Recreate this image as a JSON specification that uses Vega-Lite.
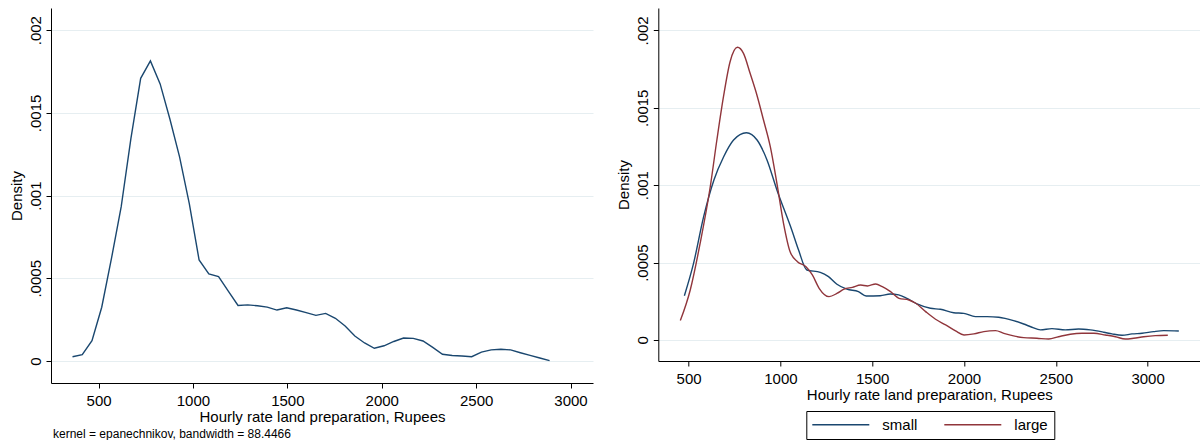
{
  "$schema": "https://vega.github.io/schema/vega-lite/v6.json",
  "padding": {"left": 9, "top": 8, "right": 0, "bottom": 0},
  "background": "white",
  "bounds": "flush",
  "spacing": 65.3,
  "resolve": {"legend": {"color": "independent"}, "scale": {"color": "independent"}},
  "config": {
    "font": "Liberation Sans",
    "view": {"stroke": null},
    "axis": {
      "domainColor": "#000", "domainWidth": 1, "tickColor": "#000", "tickSize": 5, "tickWidth": 1,
      "labelFont": "Liberation Sans", "labelFontSize": 15, "labelColor": "#000",
      "titleFont": "Liberation Sans", "titleFontSize": 15, "titleFontWeight": "normal", "titleColor": "#000",
      "gridColor": "#e6eef1", "gridWidth": 1
    },
    "axisX": {"grid": false, "labelBaseline": "alphabetic", "labelPadding": 17, "titleBaseline": "alphabetic", "titleY": 38.5, "labelFlush": false, "format": "d"},
    "axisY": {"grid": true, "labelAngle": -90, "labelAlign": "center", "labelBaseline": "alphabetic", "labelPadding": 5.7, "titleAngle": -90, "titleBaseline": "alphabetic", "titleX": -30}
  },
  "hconcat": [
    {
      "width": 542,
      "height": 375,
      "data": {"values": [
        {"x": 362, "d": 0.000026}, {"x": 413.6, "d": 0.000038}, {"x": 465.1, "d": 0.000123}, {"x": 516.7, "d": 0.000325},
        {"x": 568.3, "d": 0.00062}, {"x": 619.9, "d": 0.000933}, {"x": 671.4, "d": 0.001346}, {"x": 723.0, "d": 0.001709},
        {"x": 774.6, "d": 0.001814}, {"x": 826.1, "d": 0.001675}, {"x": 877.7, "d": 0.001463}, {"x": 929.3, "d": 0.001233},
        {"x": 980.8, "d": 0.00095}, {"x": 1032.4, "d": 0.000611}, {"x": 1084.0, "d": 0.000526}, {"x": 1135.6, "d": 0.00051},
        {"x": 1187.1, "d": 0.000423}, {"x": 1238.7, "d": 0.000336}, {"x": 1290.3, "d": 0.000339}, {"x": 1341.8, "d": 0.000334},
        {"x": 1393.4, "d": 0.000326}, {"x": 1445.0, "d": 0.000308}, {"x": 1496.5, "d": 0.000322}, {"x": 1548.1, "d": 0.000308},
        {"x": 1599.7, "d": 0.000292}, {"x": 1651.3, "d": 0.000276}, {"x": 1702.8, "d": 0.000288}, {"x": 1754.4, "d": 0.000258},
        {"x": 1806.0, "d": 0.000212}, {"x": 1857.5, "d": 0.000151}, {"x": 1909.1, "d": 0.000109}, {"x": 1960.7, "d": 0.000077},
        {"x": 2012.2, "d": 0.000092}, {"x": 2063.8, "d": 0.000118}, {"x": 2115.4, "d": 0.000139}, {"x": 2167.0, "d": 0.000137},
        {"x": 2218.5, "d": 0.000121}, {"x": 2270.1, "d": 0.000082}, {"x": 2321.7, "d": 0.000041}, {"x": 2373.2, "d": 0.000033},
        {"x": 2424.8, "d": 0.00003}, {"x": 2476.4, "d": 0.000026}, {"x": 2527.9, "d": 0.000054}, {"x": 2579.5, "d": 0.000067},
        {"x": 2631.1, "d": 0.000071}, {"x": 2682.7, "d": 0.000067}, {"x": 2734.2, "d": 0.00005}, {"x": 2785.8, "d": 0.000034},
        {"x": 2837.4, "d": 0.000018}, {"x": 2889, "d": 0.000002}
      ]},
      "title": {"text": "kernel = epanechnikov, bandwidth = 88.4466", "orient": "bottom", "anchor": "start", "frame": "group", "fontSize": 12, "fontWeight": "normal", "font": "Liberation Sans", "color": "#000", "offset": 4, "dx": 2},
      "mark": {"type": "line", "color": "#1a476f", "strokeWidth": 1.4},
      "encoding": {
        "x": {"field": "x", "type": "quantitative", "scale": {"domain": [248, 3119], "nice": false, "zero": false},
              "axis": {"values": [500, 1000, 1500, 2000, 2500, 3000], "title": "Hourly rate land preparation, Rupees"}},
        "y": {"field": "d", "type": "quantitative", "scale": {"domain": [-0.000133, 0.002134], "nice": false, "zero": false},
              "axis": {"values": [0, 0.0005, 0.001, 0.0015, 0.002], "title": "Density", "labelExpr": "datum.value == 0 ? '0' : replace(toString(datum.value), '0.', '.')"}}
      }
    },
    {
      "width": 542,
      "height": 353,
      "data": {"values": [
        {"x": 477, "d": 0.000286, "group": "small"}, {"x": 527, "d": 0.000495, "group": "small"}, {"x": 582, "d": 0.000797, "group": "small"},
        {"x": 638, "d": 0.001034, "group": "small"}, {"x": 691, "d": 0.001184, "group": "small"}, {"x": 745, "d": 0.001292, "group": "small"},
        {"x": 815, "d": 0.001339, "group": "small"}, {"x": 873, "d": 0.001292, "group": "small"}, {"x": 927, "d": 0.001163, "group": "small"},
        {"x": 981, "d": 0.000969, "group": "small"}, {"x": 1062, "d": 0.000711, "group": "small"}, {"x": 1099, "d": 0.000581, "group": "small"},
        {"x": 1144, "d": 0.000452, "group": "small"}, {"x": 1217, "d": 0.000437, "group": "small"}, {"x": 1262, "d": 0.000409, "group": "small"},
        {"x": 1308, "d": 0.00036, "group": "small"}, {"x": 1362, "d": 0.000328, "group": "small"}, {"x": 1425, "d": 0.000312, "group": "small"},
        {"x": 1467, "d": 0.000284, "group": "small"}, {"x": 1544, "d": 0.000286, "group": "small"}, {"x": 1598, "d": 0.000297, "group": "small"},
        {"x": 1644, "d": 0.000291, "group": "small"}, {"x": 1689, "d": 0.000269, "group": "small"}, {"x": 1744, "d": 0.000233, "group": "small"},
        {"x": 1817, "d": 0.000205, "group": "small"}, {"x": 1871, "d": 0.000198, "group": "small"}, {"x": 1944, "d": 0.000176, "group": "small"},
        {"x": 1999, "d": 0.000172, "group": "small"}, {"x": 2062, "d": 0.000151, "group": "small"}, {"x": 2126, "d": 0.000151, "group": "small"},
        {"x": 2189, "d": 0.000147, "group": "small"}, {"x": 2270, "d": 0.000125, "group": "small"}, {"x": 2325, "d": 0.000103, "group": "small"},
        {"x": 2370, "d": 0.000082, "group": "small"}, {"x": 2416, "d": 0.000065, "group": "small"}, {"x": 2479, "d": 0.000073, "group": "small"},
        {"x": 2552, "d": 0.000065, "group": "small"}, {"x": 2624, "d": 0.000071, "group": "small"}, {"x": 2688, "d": 0.000065, "group": "small"},
        {"x": 2761, "d": 0.00005, "group": "small"}, {"x": 2806, "d": 0.000039, "group": "small"}, {"x": 2861, "d": 0.00003, "group": "small"},
        {"x": 2915, "d": 0.000039, "group": "small"}, {"x": 2970, "d": 0.000043, "group": "small"}, {"x": 3033, "d": 0.000054, "group": "small"},
        {"x": 3088, "d": 0.00006, "group": "small"}, {"x": 3170, "d": 0.000058, "group": "small"},
        {"x": 455, "d": 0.000125, "group": "large"}, {"x": 509, "d": 0.000323, "group": "large"}, {"x": 563, "d": 0.000625, "group": "large"},
        {"x": 618, "d": 0.00099, "group": "large"}, {"x": 654, "d": 0.001292, "group": "large"}, {"x": 690, "d": 0.001572, "group": "large"},
        {"x": 726, "d": 0.001798, "group": "large"}, {"x": 766, "d": 0.001891, "group": "large"}, {"x": 799, "d": 0.001852, "group": "large"},
        {"x": 835, "d": 0.001723, "group": "large"}, {"x": 872, "d": 0.001583, "group": "large"}, {"x": 908, "d": 0.001421, "group": "large"},
        {"x": 945, "d": 0.001249, "group": "large"}, {"x": 981, "d": 0.001012, "group": "large"}, {"x": 1017, "d": 0.000754, "group": "large"},
        {"x": 1053, "d": 0.00057, "group": "large"}, {"x": 1093, "d": 0.000506, "group": "large"}, {"x": 1138, "d": 0.000474, "group": "large"},
        {"x": 1174, "d": 0.00042, "group": "large"}, {"x": 1211, "d": 0.000334, "group": "large"}, {"x": 1265, "d": 0.00028, "group": "large"},
        {"x": 1310, "d": 0.000302, "group": "large"}, {"x": 1347, "d": 0.000328, "group": "large"}, {"x": 1392, "d": 0.00034, "group": "large"},
        {"x": 1437, "d": 0.000355, "group": "large"}, {"x": 1474, "d": 0.000349, "group": "large"}, {"x": 1519, "d": 0.000362, "group": "large"},
        {"x": 1555, "d": 0.000344, "group": "large"}, {"x": 1600, "d": 0.000312, "group": "large"}, {"x": 1646, "d": 0.000269, "group": "large"},
        {"x": 1700, "d": 0.000258, "group": "large"}, {"x": 1737, "d": 0.000237, "group": "large"}, {"x": 1791, "d": 0.000183, "group": "large"},
        {"x": 1845, "d": 0.000134, "group": "large"}, {"x": 1900, "d": 0.000097, "group": "large"}, {"x": 1954, "d": 0.000058, "group": "large"},
        {"x": 2000, "d": 0.000032, "group": "large"}, {"x": 2054, "d": 0.000039, "group": "large"}, {"x": 2108, "d": 0.000054, "group": "large"},
        {"x": 2172, "d": 0.00006, "group": "large"}, {"x": 2217, "d": 0.000043, "group": "large"}, {"x": 2270, "d": 0.000026, "group": "large"},
        {"x": 2325, "d": 0.000015, "group": "large"}, {"x": 2397, "d": 0.000011, "group": "large"}, {"x": 2461, "d": 0.000006, "group": "large"},
        {"x": 2515, "d": 0.000021, "group": "large"}, {"x": 2579, "d": 0.000037, "group": "large"}, {"x": 2643, "d": 0.000043, "group": "large"},
        {"x": 2707, "d": 0.000043, "group": "large"}, {"x": 2770, "d": 0.000032, "group": "large"}, {"x": 2825, "d": 0.000021, "group": "large"},
        {"x": 2879, "d": 0.000006, "group": "large"}, {"x": 2924, "d": 0.000011, "group": "large"}, {"x": 2979, "d": 0.000021, "group": "large"},
        {"x": 3042, "d": 0.000028, "group": "large"}, {"x": 3110, "d": 0.00003, "group": "large"}
      ]},
      "mark": {"type": "line", "strokeWidth": 1.4, "interpolate": "monotone"},
      "encoding": {
        "x": {"field": "x", "type": "quantitative", "scale": {"domain": [335, 3287], "nice": false, "zero": false},
              "axis": {"values": [500, 1000, 1500, 2000, 2500, 3000], "title": "Hourly rate land preparation, Rupees"}},
        "y": {"field": "d", "type": "quantitative", "scale": {"domain": [-0.000136, 0.002145], "nice": false, "zero": false},
              "axis": {"values": [0, 0.0005, 0.001, 0.0015, 0.002], "title": "Density", "labelExpr": "datum.value == 0 ? '0' : replace(toString(datum.value), '0.', '.')"}},
        "color": {"field": "group", "type": "nominal",
                  "scale": {"domain": ["small", "large"], "range": ["#1a476f", "#90353b"]},
                  "legend": {"orient": "none", "legendX": 148, "legendY": 403, "direction": "horizontal", "title": null,
                             "symbolType": "M-1.5,0H9.9", "symbolSize": 100, "symbolStrokeWidth": 1.5,
                             "labelFontSize": 15, "labelFont": "Liberation Sans", "labelColor": "#000", "labelOffset": 55,
                             "columnPadding": 23, "padding": 6, "strokeColor": "#000", "cornerRadius": 0}}
      }
    }
  ]
}
